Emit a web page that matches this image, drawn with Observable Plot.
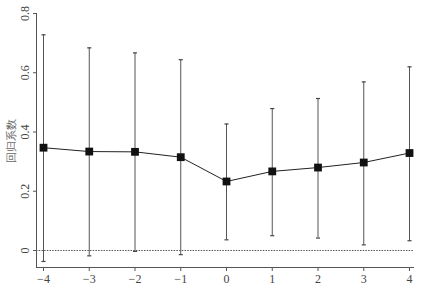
<!DOCTYPE html>
<html><head><meta charset="utf-8">
<script src="https://cdn.jsdelivr.net/npm/d3@7"></script>
<script src="https://cdn.jsdelivr.net/npm/@observablehq/plot@0.6"></script>
<style>body{margin:0;background:#fff} svg text{font-family:"Liberation Serif","Times New Roman",serif}</style>
</head><body><div id="chart"></div>
<script>
const periods = [-4, -3, -2, -1, 0, 1, 2, 3, 4];
const coef =  [0.347, 0.334, 0.333, 0.315, 0.233, 0.267, 0.280, 0.297, 0.329];
const upper = [0.728, 0.684, 0.667, 0.644, 0.427, 0.479, 0.513, 0.569, 0.620];
const lower = [-0.037, -0.018, -0.003, -0.014, 0.036, 0.050, 0.042, 0.019, 0.033];
const yTicks = [0, 0.2, 0.4, 0.6, 0.8];
const yTitle = "回归系数";

const data = periods.map((p, i) => ({p, c: coef[i], hi: upper[i], lo: lower[i]}));
const caps = data.flatMap(d => [{p: d.p, v: d.hi}, {p: d.p, v: d.lo}]);
const capSymbol = {draw(ctx, size) { const r = Math.sqrt(size) / 2; ctx.moveTo(-r, 0); ctx.lineTo(r, 0); }};
const xDom = [-4.153, 4.109], yDom = [-0.0574, 0.8];
const serif = "Liberation Serif, Times New Roman, serif";

const chart = Plot.plot({
  width: 425, height: 287,
  marginLeft: 36, marginRight: 11, marginTop: 13, marginBottom: 20,
  style: {fontFamily: serif, fontSize: "12px", color: "#444", background: "#fff"},
  x: {domain: xDom},
  y: {domain: yDom},
  marks: [
    Plot.ruleY([0], {stroke: "#555", strokeDasharray: "1.5,1.2", strokeWidth: 1}),
    Plot.ruleX(data, {x: "p", y1: "lo", y2: "hi", stroke: "#555", strokeWidth: 1}),
    Plot.dot(caps, {x: "p", y: "v", symbol: capSymbol, r: 2.3, stroke: "#444", strokeWidth: 1.2, fill: "none"}),
    Plot.line(data, {x: "p", y: "c", stroke: "#222", strokeWidth: 1}),
    Plot.dot(data, {x: "p", y: "c", symbol: "square", r: 4.4, fill: "#111", stroke: "none"}),
    Plot.ruleX([xDom[0]], {stroke: "#555"}),
    Plot.ruleY([yDom[0]], {stroke: "#555"}),
    Plot.axisY({ticks: yTicks, tickSize: 3, tickRotate: -90, tickPadding: 5, tickFormat: d3.format("~g"), label: null, stroke: "#555", fill: "#444", fontFamily: serif, fontSize: 12}),
    Plot.axisX({ticks: periods, tickSize: 4, tickPadding: 3, tickFormat: d3.format("d"), label: null, stroke: "#555", fill: "#444", fontFamily: serif, fontSize: 12}),
    Plot.text([yTitle], {frameAnchor: "left", textAnchor: "middle", dx: -25, dy: 0, rotate: -90, fontFamily: "Noto Sans CJK SC", fontSize: 11, fill: "#666"})
  ]
});
document.getElementById("chart").append(chart);
</script></body></html>
